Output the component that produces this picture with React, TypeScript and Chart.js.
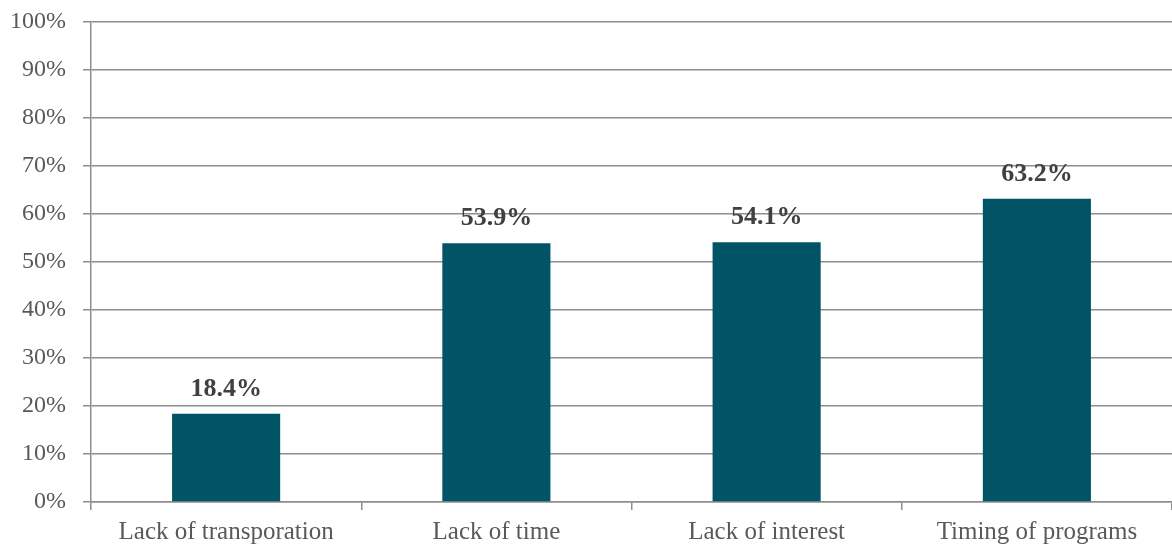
import React, { useEffect, useRef } from "react";
import { Chart, registerables } from "chart.js";

Chart.register(...registerables);

const categories = [
  "Lack of transporation",
  "Lack of time",
  "Lack of interest",
  "Timing of programs",
];
const values = [18.4, 53.9, 54.1, 63.2];
const yTicks = [0, 10, 20, 30, 40, 50, 60, 70, 80, 90, 100];

const FONT = "'Liberation Serif', 'DejaVu Serif', serif";
const BAR_COLOR = "#005466";
const GRID_COLOR = "#8e8e8e";

// Bold percentage above each bar
const valueLabels = {
  id: "valueLabels",
  afterDatasetsDraw(chart: any) {
    const { ctx } = chart;
    const meta = chart.getDatasetMeta(0);
    ctx.save();
    ctx.font = `bold 26px ${FONT}`;
    ctx.fillStyle = "#404040";
    ctx.textAlign = "center";
    ctx.textBaseline = "alphabetic";
    meta.data.forEach((bar: any, i: number) => {
      ctx.fillText(`${values[i].toFixed(1)}%`, bar.x, bar.y - 18);
    });
    ctx.restore();
  },
};

export default function App() {
  const canvasRef = useRef<HTMLCanvasElement | null>(null);

  useEffect(() => {
    if (!canvasRef.current) return;
    const chart = new Chart(canvasRef.current, {
      type: "bar",
      data: {
        labels: categories,
        datasets: [
          {
            data: values,
            backgroundColor: BAR_COLOR,
            borderWidth: 0,
            categoryPercentage: 1,
            barPercentage: 0.4,
          },
        ],
      },
      options: {
        animation: false,
        responsive: false,
        maintainAspectRatio: false,
        layout: { padding: { top: 22, right: 0, left: 0, bottom: 0 } },
        plugins: {
          legend: { display: false },
          tooltip: { enabled: false },
        },
        scales: {
          x: {
            offset: true,
            afterFit: (scale: any) => {
              scale.height = 43;
              scale.paddingLeft = 0;
              scale.paddingRight = 0;
            },
            grid: {
              offset: true,
              drawOnChartArea: false,
              drawTicks: true,
              tickLength: 8,
              color: GRID_COLOR,
              lineWidth: 1.5,
            },
            border: { display: true, color: GRID_COLOR, width: 1.5 },
            ticks: {
              color: "#595959",
              font: { family: FONT, size: 25 },
              padding: 7,
              maxRotation: 0,
              autoSkip: false,
            },
          },
          y: {
            min: 0,
            max: 100,
            afterFit: (scale: any) => {
              scale.width = 91;
              scale.paddingTop = 0;
              scale.paddingBottom = 0;
            },
            afterBuildTicks: (scale: any) => {
              scale.ticks = yTicks.map((v) => ({ value: v }));
            },
            grid: {
              color: GRID_COLOR,
              lineWidth: 1.5,
              drawTicks: true,
              tickLength: 8,
            },
            border: { display: true, color: GRID_COLOR, width: 1.5 },
            ticks: {
              color: "#595959",
              font: { family: FONT, size: 24 },
              padding: 17,
              callback: (v: any) => `${v}%`,
            },
          },
        },
      },
      plugins: [valueLabels],
    });
    return () => chart.destroy();
  }, []);

  return (
    <div style={{ position: "absolute", left: 0, top: 0, width: 1172, height: 545, background: "#fff" }}>
      <canvas ref={canvasRef} width={1172} height={545} style={{ width: 1172, height: 545 }} />
    </div>
  );
}
